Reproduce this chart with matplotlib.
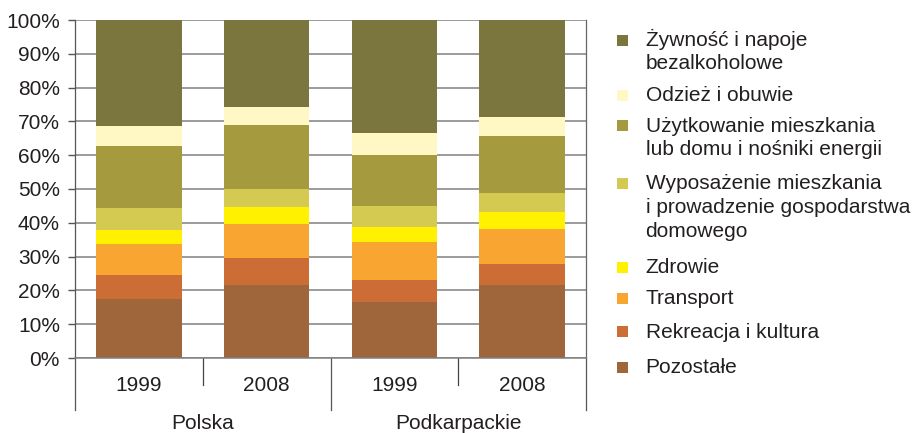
import matplotlib
matplotlib.use('Agg')
import matplotlib.pyplot as plt
from matplotlib.patches import Rectangle
import matplotlib.transforms as mtransforms

plt.rcParams['font.family'] = ['Liberation Sans', 'DejaVu Sans']

# ---- data ----
groups = ['Polska', 'Podkarpackie']
years = ['1999', '2008', '1999', '2008']
yticks = [0, 10, 20, 30, 40, 50, 60, 70, 80, 90, 100]
# stacking order bottom -> top
categories = [
    'Pozostałe',
    'Rekreacja i kultura',
    'Transport',
    'Zdrowie',
    'Wyposażenie mieszkania\ni prowadzenie gospodarstwa\ndomowego',
    'Użytkowanie mieszkania\nlub domu i nośniki energii',
    'Odzież i obuwie',
    'Żywność i napoje\nbezalkoholowe',
]
pozostale = [17.4, 21.5, 16.5, 21.5]
rekreacja = [7.1, 8.0, 6.5, 6.2]
transport = [9.2, 10.1, 11.3, 10.4]
zdrowie = [4.1, 5.0, 4.4, 5.0]
wyposazenie = [6.5, 5.4, 6.2, 5.7]
uzytkowanie = [18.4, 18.9, 15.1, 16.8]
odziez = [5.9, 5.3, 6.5, 5.7]
zywnosc = [31.4, 25.8, 33.5, 28.7]
series = [pozostale, rekreacja, transport, zdrowie, wyposazenie, uzytkowanie, odziez, zywnosc]
colors = ['#9E663A', '#CC6D36', '#F8A531', '#FFF100', '#D4C951', '#A59B3E', '#FFF8C5', '#7B763D']

TXT = '#231F20'
W, H = 917, 433
fig = plt.figure(figsize=(W / 100, H / 100), dpi=100)
ax = fig.add_axes([75 / W, (H - 358) / H, 511 / W, 338 / H])

x = list(range(len(years)))
bottom = [0.0] * len(x)
for vals, c, lab in zip(series, colors, categories):
    ax.bar(x, vals, width=0.67, bottom=bottom, color=c, label=lab, zorder=2)
    bottom = [b + v for b, v in zip(bottom, vals)]

ax.set_xlim(-0.5, len(x) - 0.5)
ax.set_ylim(0, 100)
ax.set_yticks(yticks)
ax.set_yticklabels([f'{v}%' for v in yticks])
ax.set_xticks([])
ax.tick_params(axis='y', length=5, width=1, color='#555555', pad=5.8,
               labelsize=15, labelcolor=TXT)
ax.set_axisbelow(True)
ax.yaxis.grid(True, color='#808080', linewidth=1.1, zorder=0)

for s in ['top']:
    ax.spines[s].set_visible(False)
ax.spines['left'].set_color('#555555')
ax.spines['left'].set_linewidth(0.9)
ax.spines['right'].set_color('#666666')
ax.spines['right'].set_linewidth(0.9)
ax.spines['bottom'].set_color('#808080')
ax.spines['bottom'].set_linewidth(1.1)

trans = mtransforms.blended_transform_factory(ax.transData, ax.transAxes)
# separators
for i in range(len(x) + 1):
    xb = i - 0.5
    long_sep = (i % 2 == 0)
    yend = -0.154 if long_sep else -0.08
    col = '#555555' if long_sep else '#444444'
    ax.plot([xb, xb], [0, yend], transform=trans, color=col, lw=0.9, clip_on=False)

# year labels
for xi, yr in zip(x, years):
    ax.text(xi, -0.0967, yr, transform=trans, ha='center', va='baseline',
            fontsize=15, color=TXT)
# group labels
for gi, g in enumerate(groups):
    ax.text(2 * gi + 0.5, -0.210, g, transform=trans, ha='center', va='baseline',
            fontsize=15, color=TXT)

# legend (manual), top to bottom
leg_baselines = [[46, 69.3], [101], [131.7, 155], [189.3, 213.3, 236.7],
                 [273.3], [304.3], [337.7], [373.3]]
for (lab, c), bls in zip(list(zip(categories, colors))[::-1], leg_baselines):
    lines = lab.split('\n')
    b0 = bls[0]
    fig.patches.append(Rectangle((617 / W, 1 - (b0 - 0.5) / H), 11 / W, 11 / H,
                                 transform=fig.transFigure, facecolor=c,
                                 edgecolor='none'))
    for line, bl in zip(lines, bls):
        fig.text(645.5 / W, 1 - bl / H, line, ha='left', va='baseline',
                 fontsize=15, color=TXT)

fig.savefig('out.png', dpi=100)
